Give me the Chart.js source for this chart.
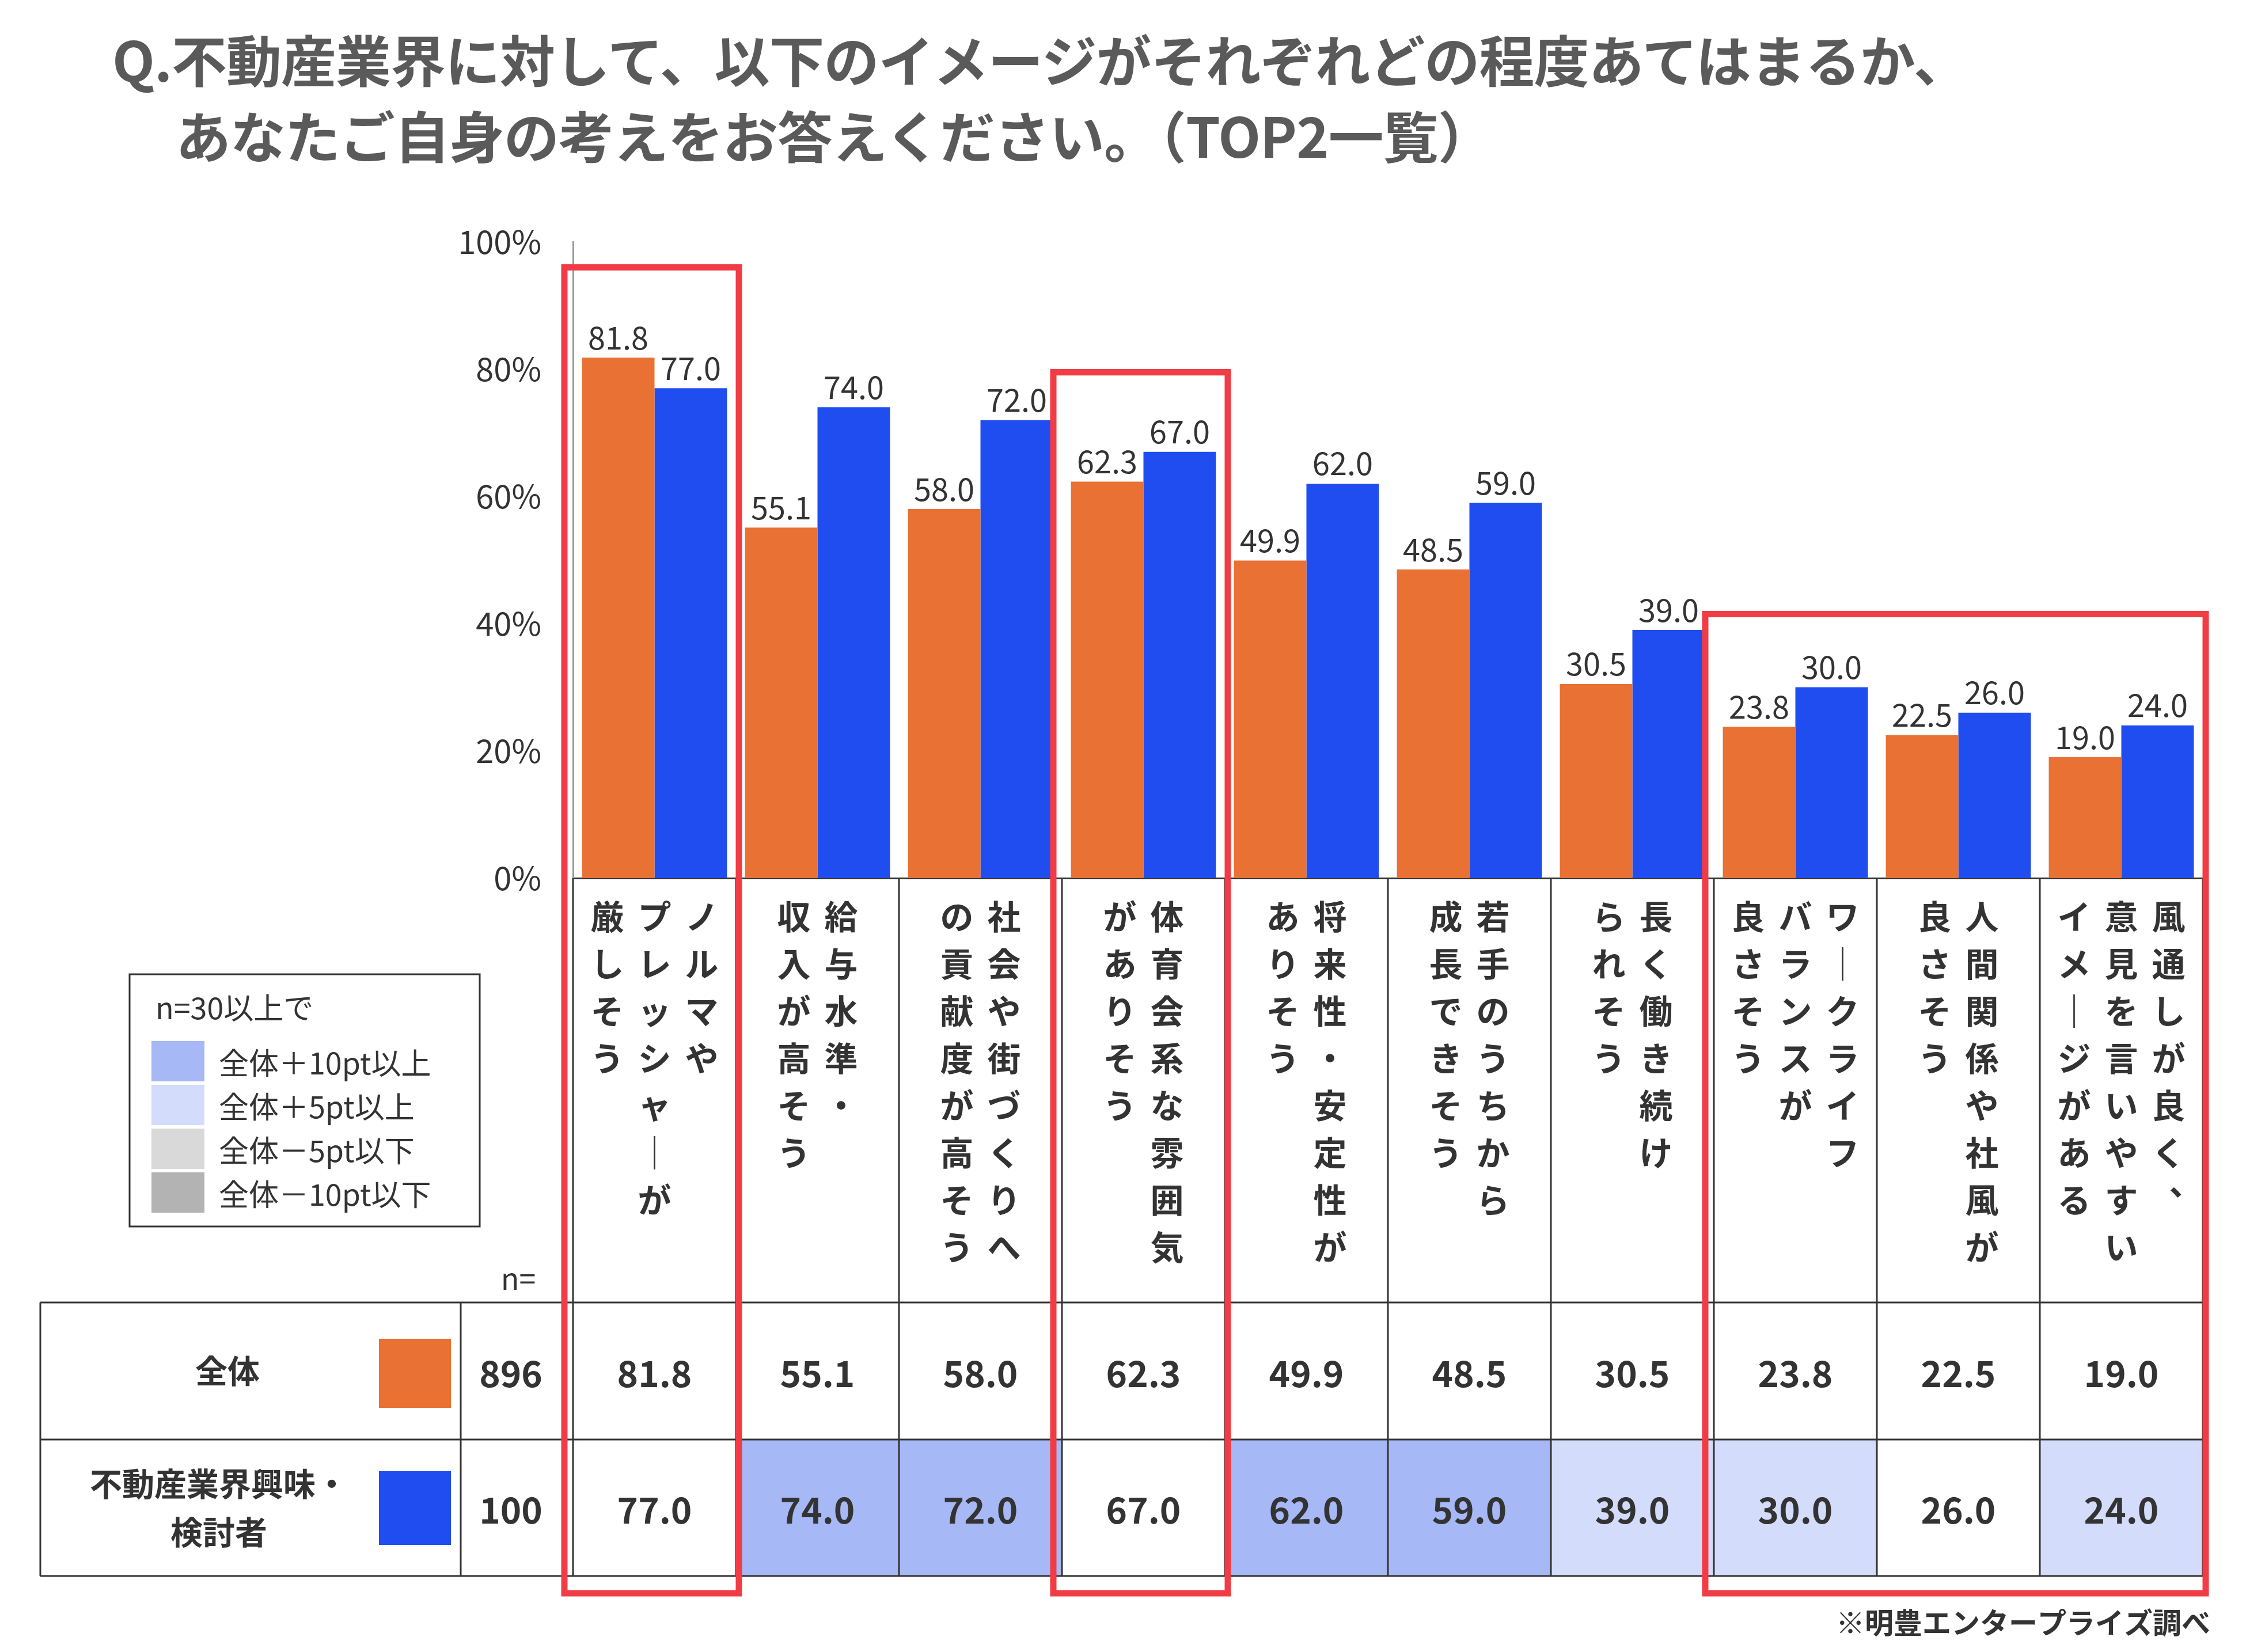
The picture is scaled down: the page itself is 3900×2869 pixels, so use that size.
<!DOCTYPE html>
<html><head><meta charset="utf-8">
<script src="https://cdn.jsdelivr.net/npm/chart.js@4"></script>
<style>
body{margin:0;background:#fff;width:3900px;height:2869px;overflow:hidden;position:relative;font-family:"Noto Sans CJK JP","Noto Sans",sans-serif}
#title{position:absolute;left:195px;top:35px;font-size:96px;font-weight:bold;color:#5a5a5a;line-height:132px;white-space:nowrap;letter-spacing:-1px}
#title .l2{padding-left:110px}
canvas{position:absolute;left:0;top:0}
</style></head><body>
<canvas id="c" width="3900" height="2869"></canvas>
<div id="title">Q.不動産業界に対して、以下のイメージがそれぞれどの程度あてはまるか、<br><span class="l2">あなたご自身の考えをお答えください。（TOP2一覧）</span></div>
<script>
const categories = [
  ['ノルマや', 'プレッシャーが', '厳しそう'],
  ['給与水準・', '収入が高そう'],
  ['社会や街づくりへ', 'の貢献度が高そう'],
  ['体育会系な雰囲気', 'がありそう'],
  ['将来性・安定性が', 'ありそう'],
  ['若手のうちから', '成長できそう'],
  ['長く働き続け', 'られそう'],
  ['ワークライフ', 'バランスが', '良さそう'],
  ['人間関係や社風が', '良さそう'],
  ['風通しが良く、', '意見を言いやすい', 'イメージがある']
];
const seriesNames = ['全体', '不動産業界興味・検討者'];
const sampleSizes = [896, 100];
const allValues = [81.8, 55.1, 58.0, 62.3, 49.9, 48.5, 30.5, 23.8, 22.5, 19.0];
const interestedValues = [77.0, 74.0, 72.0, 67.0, 62.0, 59.0, 39.0, 30.0, 26.0, 24.0];
const yTicks = [0, 20, 40, 60, 80, 100];
const legendLabels = ['全体＋10pt以上', '全体＋5pt以上', '全体－5pt以下', '全体－10pt以下'];

const ORANGE = '#e87133', BLUE = '#1f4df0';
const shade = ['#a6b8f5', '#d3dcfb', '#d9d9d9', '#b3b3b3'];
const highlight = [{from: 0, to: 0, top: 96}, {from: 3, to: 3, top: 79.5}, {from: 7, to: 9, top: 41.5}];
const FONT = '"Noto Sans CJK JP", "Noto Sans", sans-serif';

function shadeFor(d) {
  if (d >= 10) return shade[0];
  if (d >= 5) return shade[1];
  if (d <= -10) return shade[3];
  if (d <= -5) return shade[2];
  return null;
}

const extras = {
  id: 'extras',
  afterDatasetsDraw(chart) {
    const ctx = chart.ctx, x = chart.scales.x, y = chart.scales.y, ca = chart.chartArea;
    const cw = ca.width / categories.length;
    const r0 = 2262, r1 = 2500, r2 = 2737, tl = 70;
    ctx.save();
    // value labels
    ctx.fillStyle = '#333'; ctx.font = '54px ' + FONT; ctx.textAlign = 'center'; ctx.textBaseline = 'bottom';
    chart.data.datasets.forEach((ds, di) => {
      chart.getDatasetMeta(di).data.forEach((b, i) => ctx.fillText(ds.data[i].toFixed(1), b.x, b.y - 8));
    });
    // row 2 shading
    interestedValues.forEach((v, i) => {
      const c = shadeFor(v - allValues[i]);
      if (c) { ctx.fillStyle = c; ctx.fillRect(ca.left + i * cw, r1, cw, r2 - r1); }
    });
    // table lines
    ctx.strokeStyle = '#333'; ctx.lineWidth = 3;
    ctx.beginPath();
    for (let i = 0; i <= categories.length; i++) {
      ctx.moveTo(ca.left + i * cw, ca.bottom); ctx.lineTo(ca.left + i * cw, r2);
    }
    [r0, r1, r2].forEach(r => { ctx.moveTo(tl, r); ctx.lineTo(ca.right, r); });
    ctx.moveTo(tl, r0); ctx.lineTo(tl, r2);
    ctx.moveTo(800, r0); ctx.lineTo(800, r2);
    ctx.stroke();
    // category labels, vertical, columns right to left
    ctx.fillStyle = '#333'; ctx.font = 'bold 58px ' + FONT; ctx.textBaseline = 'middle';
    categories.forEach((lines, i) => {
      const cx = x.getPixelForValue(i), step = 82;
      lines.forEach((ln, li) => {
        const colX = cx + ((lines.length - 1) / 2 - li) * step;
        [...ln].forEach((ch, k) => {
          let c = ch === 'ー' ? '｜' : ch;
          let yy = 1592 + k * 82;
          if (c === '、') { ctx.fillText(c, colX + 30, yy - 30); return; }
          ctx.fillText(c, colX, yy);
        });
      });
    });
    // table contents
    ctx.font = 'bold 62px ' + FONT; ctx.textAlign = 'center';
    const rows = [[allValues, (r0 + r1) / 2], [interestedValues, (r1 + r2) / 2]];
    rows.forEach(([vals, ry]) => vals.forEach((v, i) => ctx.fillText(v.toFixed(1), ca.left + (i + 0.5) * cw, ry + 4)));
    ctx.fillText(sampleSizes[0], 887, (r0 + r1) / 2 + 4);
    ctx.fillText(sampleSizes[1], 887, (r1 + r2) / 2 + 4);
    ctx.font = 'bold 56px ' + FONT;
    ctx.fillText(seriesNames[0], 395, (r0 + r1) / 2);
    ctx.fillText('不動産業界興味・', 380, (r1 + r2) / 2 - 42);
    ctx.fillText('検討者', 380, (r1 + r2) / 2 + 42);
    ctx.fillStyle = ORANGE; ctx.fillRect(658, 2325, 125, 120);
    ctx.fillStyle = BLUE; ctx.fillRect(658, 2555, 125, 128);
    // n=
    ctx.fillStyle = '#333'; ctx.font = '52px ' + FONT;
    ctx.fillText('n=', 900, 2220);
    // legend
    ctx.strokeStyle = '#333'; ctx.lineWidth = 3;
    ctx.strokeRect(225, 1692, 608, 438);
    ctx.textAlign = 'left';
    ctx.fillText('n=30以上で', 270, 1750);
    legendLabels.forEach((t, i) => {
      const yy = 1808 + i * 76;
      ctx.fillStyle = shade[i]; ctx.fillRect(263, yy, 92, 70);
      ctx.fillStyle = '#333'; ctx.fillText(t, 380, yy + 38);
    });
    // footnote
    ctx.font = 'bold 50px ' + FONT; ctx.textAlign = 'right';
    ctx.fillText('※明豊エンタープライズ調べ', 3838, 2818);
    // red highlight boxes
    ctx.strokeStyle = '#f23c45'; ctx.lineWidth = 11;
    highlight.forEach(h => {
      const l = ca.left + h.from * cw - 15, r = ca.left + (h.to + 1) * cw + 5;
      const t = y.getPixelForValue(h.top);
      ctx.strokeRect(l, t, r - l, 2767 - t);
    });
    ctx.restore();
  }
};

new Chart(document.getElementById('c'), {
  type: 'bar',
  data: {
    labels: categories.map(c => c.join('')),
    datasets: [
      { label: seriesNames[0], data: allValues, backgroundColor: ORANGE },
      { label: seriesNames[1], data: interestedValues, backgroundColor: BLUE }
    ]
  },
  options: {
    responsive: false, animation: false, devicePixelRatio: 1,
    layout: { padding: { left: 0, top: 420, right: 75, bottom: 2869 - 1525 } },
    plugins: { legend: { display: false }, tooltip: { enabled: false } },
    datasets: { bar: { categoryPercentage: 0.89, barPercentage: 1 } },
    scales: {
      x: { ticks: { display: false }, grid: { display: false }, border: { color: '#333', width: 3 },
           afterFit: s => { s.height = 0; } },
      y: { min: 0, max: 100, afterBuildTicks: s => { s.ticks = yTicks.map(v => ({ value: v })); },
           ticks: { callback: v => v + '%', color: '#333', font: { size: 56, family: FONT }, padding: 55 },
           grid: { display: false, drawTicks: false }, border: { color: '#999', width: 3 },
           afterFit: s => { s.width = 995; } }
    }
  },
  plugins: [extras]
});
</script>
</body></html>
